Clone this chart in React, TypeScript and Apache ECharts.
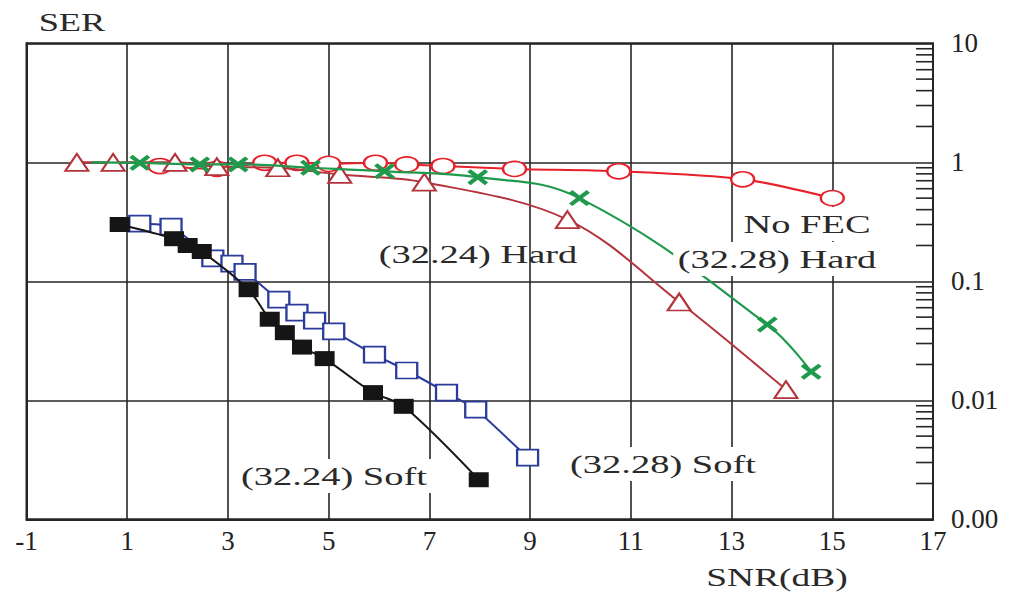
import React, { useEffect, useRef } from "react";
import * as echarts from "echarts";

// ---- data ----
const noFecSnr = [1.65, 2.78, 3.73, 4.37, 5.0, 5.93, 6.55, 7.27, 8.69, 10.76, 13.22, 15.0];
const noFecSer = [0.93, 0.88, 0.99, 0.99, 0.97, 0.99, 0.96, 0.93, 0.88, 0.84, 0.72, 0.5];

const hard24Snr = [0, 0.72, 1.95, 2.78, 3.99, 5.22, 6.9, 9.74, 11.96, 14.08];
const hard24Ser = [1.0, 1.0, 1.0, 0.92, 0.9, 0.79, 0.68, 0.33, 0.067, 0.0123];

const hard28Snr = [0.3, 1.25, 2.44, 3.2, 4.64, 6.11, 7.96, 9.98, 13.71, 14.58];
const hard28Ser = [1.0, 0.99, 0.96, 0.96, 0.9, 0.84, 0.75, 0.5, 0.0433, 0.0174];

const soft24Snr = [0.85, 1.93, 2.2, 2.48, 3.41, 3.83, 4.13, 4.47, 4.92, 5.88, 6.49, 7.98];
const soft24Ser = [0.3, 0.228, 0.2, 0.178, 0.085, 0.048, 0.037, 0.028, 0.0224, 0.0116, 0.0089, 0.00215];

const soft28Snr = [1.25, 1.87, 2.7, 3.08, 3.34, 4.01, 4.37, 4.72, 5.1, 5.91, 6.55, 7.34, 7.92, 8.95];
const soft28Ser = [0.305, 0.288, 0.156, 0.141, 0.12, 0.07, 0.0546, 0.0468, 0.038, 0.0242, 0.0178, 0.0116, 0.00836, 0.0033];

// x axis runs from -1 to 17 with ticks every 2 (-1, 1, 3, ..., 17)
const xMin = -1;
const xMax = 17;
const xStep = 2;
const yTickLabels = ["0.00", "0.01", "0.1", "1", "10"];
const minorDecades = [0.001, 0.01, 0.1, 1];
const minorMultipliers = [2, 3, 4, 5, 6, 7, 8, 9];

const FONT = "'Liberation Serif', 'Times New Roman', serif";
const RED = "#e8202a";
const DARKRED = "#b3343c";
const GREEN = "#1f9a4c";
const BLUE = "#2b3b9c";
const BLACK = "#151515";
const GRID = "#262626";

// the axis is laid out from 0 so that ticks fall on -1, 1, 3, ... (labels shift back)
const shift = -xMin;
const zip = (xs: number[], ys: number[]) => xs.map((x, i) => [x + shift, ys[i]]);

const X_PATH =
  "path://M0,1.6 L1.6,0 L5,3.4 L8.4,0 L10,1.6 L6.6,5 L10,8.4 L8.4,10 L5,6.6 L1.6,10 L0,8.4 L3.4,5 Z";

export default function App() {
  const ref = useRef<HTMLDivElement>(null);
  useEffect(() => {
    if (!ref.current) return;
    const chart = echarts.init(ref.current, null, { renderer: "svg" });

    const minorTicks: number[][] = [];
    minorDecades.forEach((d) =>
      minorMultipliers.forEach((m) => minorTicks.push([xMax + shift, +(d * m).toPrecision(3)]))
    );

    const hard28Data: any[] = zip(hard28Snr, hard28Ser).map((v, i) =>
      i === 0 ? { value: v, symbol: "none" } : v
    );

    const textStyle = (text: string, x: number, y: number, bg: boolean) => ({
      type: "text",
      x,
      y,
      scaleX: 1.48,
      z: 100,
      style: {
        text,
        fontFamily: FONT,
        fontSize: 26,
        fill: "#2a2a2a",
        align: "center",
        verticalAlign: "middle",
        backgroundColor: bg ? "#fff" : undefined,
        padding: bg ? [4, 3] : 0,
      },
    });

    chart.setOption({
      animation: false,
      backgroundColor: "#fff",
      grid: {
        left: 26.5,
        right: 95,
        top: 43.3,
        bottom: 75.7,
        show: true,
        borderColor: GRID,
        borderWidth: 2,
      },
      xAxis: {
        type: "value",
        min: xMin + shift,
        max: xMax + shift,
        interval: xStep,
        axisLine: { show: true, lineStyle: { color: GRID, width: 2 } },
        axisTick: { show: false },
        axisLabel: {
          color: "#222",
          fontFamily: FONT,
          fontSize: 27,
          margin: 8,
          formatter: (v: number) => String(Math.round(v - shift)),
        },
        splitLine: { show: true, lineStyle: { color: GRID, width: 1.6 } },
      },
      yAxis: {
        type: "log",
        logBase: 10,
        min: 0.001,
        max: 10,
        position: "right",
        axisLine: { show: true, lineStyle: { color: GRID, width: 2 } },
        axisTick: { show: false },
        minorTick: { show: false },
        axisLabel: {
          color: "#222",
          fontFamily: FONT,
          fontSize: 27,
          margin: 18,
          align: "left",
          formatter: (v: number) => yTickLabels[Math.round(Math.log10(v)) + 3] ?? "",
        },
        splitLine: { show: true, lineStyle: { color: GRID, width: 1.6 } },
      },
      series: [
        {
          type: "custom",
          data: minorTicks,
          silent: true,
          clip: false,
          renderItem: (params: any, api: any) => {
            const p = api.coord([api.value(0), api.value(1)]);
            return {
              type: "line",
              shape: { x1: p[0] - 17, y1: p[1], x2: p[0], y2: p[1] },
              style: { stroke: GRID, lineWidth: 1.6 },
            };
          },
          z: 1,
        },
        {
          name: "No FEC",
          type: "line",
          data: zip(noFecSnr, noFecSer),
          smooth: 0.3,
          symbol: "emptyCircle",
          symbolSize: [23, 15],
          lineStyle: { color: RED, width: 2 },
          itemStyle: { color: RED, borderColor: RED, borderWidth: 2 },
          z: 3,
        },
        {
          name: "(32.24) Hard",
          type: "line",
          data: zip(hard24Snr, hard24Ser),
          smooth: 0.35,
          symbol: "emptyTriangle",
          symbolSize: [23, 17],
          lineStyle: { color: DARKRED, width: 2 },
          itemStyle: { color: DARKRED, borderColor: DARKRED, borderWidth: 2 },
          z: 4,
        },
        {
          name: "(32.28) Hard",
          type: "line",
          data: hard28Data,
          smooth: 0.4,
          symbol: X_PATH,
          symbolSize: [21, 16],
          lineStyle: { color: GREEN, width: 2.2 },
          itemStyle: { color: GREEN, borderWidth: 0 },
          z: 5,
        },
        {
          name: "(32.28) Soft",
          type: "line",
          data: zip(soft28Snr, soft28Ser),
          smooth: 0.2,
          symbol: "emptyRect",
          symbolSize: [21, 16],
          lineStyle: { color: BLUE, width: 2 },
          itemStyle: { color: BLUE, borderColor: BLUE, borderWidth: 2.5 },
          z: 6,
        },
        {
          name: "(32.24) Soft",
          type: "line",
          data: zip(soft24Snr, soft24Ser),
          smooth: 0.3,
          symbol: "rect",
          symbolSize: [20, 15],
          lineStyle: { color: BLACK, width: 2 },
          itemStyle: { color: BLACK, borderWidth: 0 },
          z: 7,
        },
      ],
      graphic: [
        {
          type: "text",
          x: 72,
          y: 22,
          scaleX: 1.4,
          style: {
            text: "SER",
            fontFamily: FONT,
            fontSize: 26,
            fill: "#2a2a2a",
            align: "center",
            verticalAlign: "middle",
          },
        },
        {
          type: "text",
          x: 777,
          y: 577,
          scaleX: 1.44,
          style: {
            text: "SNR(dB)",
            fontFamily: FONT,
            fontSize: 26,
            fill: "#2a2a2a",
            align: "center",
            verticalAlign: "middle",
          },
        },
        textStyle("No FEC", 807, 224, true),
        textStyle("(32.28) Hard", 777, 259, true),
        textStyle("(32.24) Hard", 478, 254, false),
        textStyle("(32.24) Soft", 334, 476, true),
        textStyle("(32.28) Soft", 663, 464, true),
      ],
    });
    return () => chart.dispose();
  }, []);
  return (
    <div
      ref={ref}
      style={{ position: "fixed", left: 0, top: 0, width: 1028, height: 595, background: "#fff" }}
    />
  );
}
